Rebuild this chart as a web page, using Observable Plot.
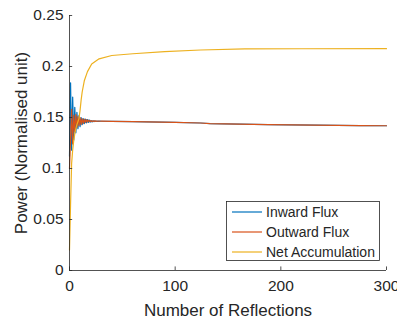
<!DOCTYPE html>
<html><head><meta charset="utf-8">
<script src="https://cdn.jsdelivr.net/npm/d3@7"></script>
<script src="https://cdn.jsdelivr.net/npm/@observablehq/plot@0.6"></script>
<style>body{margin:0;background:#fff} #chart{width:397px;height:318px}</style>
</head><body><div id="chart"></div>
<script>
const seriesNames = ["Inward Flux", "Outward Flux", "Net Accumulation"];
const seriesColors = ["#0072BD", "#D95319", "#EDB120"];

const inwardN = [0,1,2,3,4,5,6,7,8,9,10,11,12,13,14,15,16,17,18,19,20,21,22,23,24,25,26,27,28,29,30,40,60,100,124,133,188,275,300];
const inwardP = [0.112,0.184,0.118,0.170,0.128,0.160,0.135,0.155,0.139,0.152,0.141,0.150,0.143,0.149,0.144,0.1485,0.1448,0.148,0.1452,0.1475,0.1455,0.147,0.1458,0.1468,0.146,0.1466,0.1461,0.1465,0.1462,0.1464,0.1463,0.1462,0.146,0.1452,0.1446,0.144,0.143,0.142,0.1419];

const outwardN = [0,1,2,3,4,5,6,7,8,9,10,11,12,13,14,15,16,17,18,19,20,21,22,23,24,25,26,27,28,29,30,40,60,100,124,133,188,275,300];
const outwardP = [0.100,0.128,0.158,0.124,0.152,0.136,0.153,0.140,0.151,0.142,0.150,0.143,0.149,0.144,0.1485,0.145,0.148,0.1455,0.1475,0.1458,0.147,0.146,0.1468,0.1461,0.1467,0.1462,0.1466,0.1463,0.1465,0.1463,0.1464,0.1462,0.146,0.1452,0.1446,0.144,0.143,0.142,0.1419];

const netN = [0,1,2,3,4,5,6,7,8,9,10,11,12,14,17,21,28,40,60,90,124,166,220,300];
const netP = [0.020,0.065,0.105,0.118,0.127,0.134,0.139,0.143,0.146,0.149,0.157,0.167,0.175,0.186,0.195,0.2025,0.2075,0.2108,0.2125,0.2145,0.2162,0.2172,0.2174,0.2175];

const xTicks = [0, 100, 200, 300];
const yTicks = [0, 0.05, 0.1, 0.15, 0.2, 0.25];
const yTickLabels = ["0", "0.05", "0.1", "0.15", "0.2", "0.25"];

const rows = [];
[[inwardN, inwardP], [outwardN, outwardP], [netN, netP]].forEach(([ns, ps], i) => {
  ns.forEach((n, j) => rows.push({series: seriesNames[i], n, p: ps[j]}));
});

const axisColor = "#262626";
const font = "'Liberation Sans', Arial, Helvetica, sans-serif";

const svg = Plot.plot({
  width: 397, height: 318,
  marginLeft: 69, marginRight: 11, marginTop: 15, marginBottom: 48,
  style: {fontFamily: font, color: axisColor, background: "#fff", overflow: "visible"},
  x: {domain: [0, 300]},
  y: {domain: [0, 0.25]},
  color: {domain: seriesNames, range: seriesColors},
  marks: [
    Plot.line(rows, {x: "n", y: "p", stroke: "series", z: "series", strokeWidth: 1.2}),
    Plot.ruleY([0], {stroke: axisColor, strokeWidth: 0.8}),
    Plot.ruleX([0], {stroke: axisColor, strokeWidth: 0.8}),
    Plot.ruleX(xTicks, {x: d => d, y1: 0, y2: 0.0035, stroke: axisColor, strokeWidth: 0.8}),
    Plot.ruleY(yTicks, {y: d => d, x1: 0, x2: 3, stroke: axisColor, strokeWidth: 0.8}),
    Plot.axisX({ticks: xTicks, tickSize: 0, tickPadding: 9, fontSize: 15.5, label: null, tickFormat: d => String(d)}),
    Plot.axisY({ticks: yTicks, tickSize: 0, tickPadding: 6, fontSize: 15.5, label: null, tickFormat: (d, i) => yTickLabels[i]}),
    Plot.axisX({ticks: [], label: "Number of Reflections", labelAnchor: "center", labelArrow: "none", labelOffset: 45, fontSize: 17}),
    Plot.axisY({ticks: [], label: "Power (Normalised unit)", labelAnchor: "center", labelArrow: "none", labelOffset: 55, fontSize: 17})
  ]
});

const g = d3.select(svg).append("g").attr("font-family", font).attr("font-size", 14).attr("text-anchor", "start");
g.append("rect").attr("x", 226.5).attr("y", 201.5).attr("width", 153).attr("height", 59)
  .attr("fill", "#fff").attr("stroke", axisColor).attr("stroke-width", 0.8);
seriesNames.forEach((name, i) => {
  const y = 212 + i * 20;
  g.append("line").attr("x1", 232).attr("x2", 262).attr("y1", y).attr("y2", y)
    .attr("stroke", seriesColors[i]).attr("stroke-width", 1.2);
  g.append("text").attr("x", 266).attr("y", y).attr("dy", "0.35em").attr("text-anchor", "start")
    .attr("fill", axisColor).text(name);
});

document.getElementById("chart").appendChild(svg);
</script>
</body></html>
